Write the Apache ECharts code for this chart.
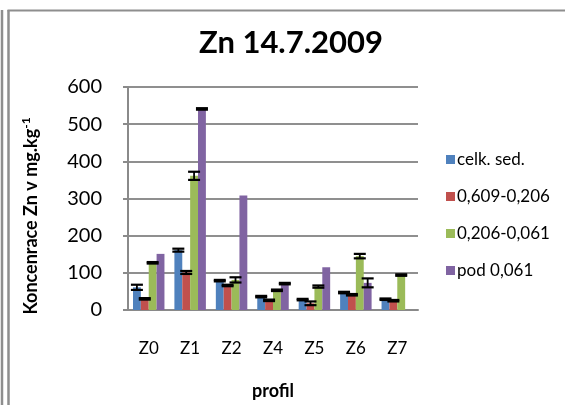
<!DOCTYPE html>
<html>
<head>
<meta charset="utf-8">
<script src="https://cdn.jsdelivr.net/npm/echarts@6/dist/echarts.min.js"></script>
<style>
  html, body { margin: 0; padding: 0; background: #fff; }
  #chart { width: 565px; height: 405px; }
</style>
</head>
<body>
<div id="chart"></div>
<script>
// Zinc concentration per sampling profile, by grain-size fraction (14.7.2009)
const categories = ['Z0', 'Z1', 'Z2', 'Z4', 'Z5', 'Z6', 'Z7'];
const seriesNames = ['celk. sed.', '0,609-0,206', '0,206-0,061', 'pod 0,061'];

const celkSed   = [61, 161, 79, 36, 28, 47, 29];
const frac609   = [30, 101, 66, 26, 18, 41, 25];
const frac206   = [127, 361, 81, 53, 63, 145, 94];
const pod061    = [151, 541, 308, 71, 115, 73, null];

// standard deviations (null = no error bar)
const celkSedErr = [7, 4, 2, 2, 2, 2, 2];
const frac609Err = [2, 4, 2, 2, 5, 2, 2];
const frac206Err = [2, 11, 7, 2, 3, 6, 2];
const pod061Err  = [null, 2, null, 2, null, 12, null];

const yTicks = [0, 100, 200, 300, 400, 500, 600];

const colors = ['#4F81BD', '#C0504D', '#9BBB59', '#8064A2'];
const values = [celkSed, frac609, frac206, pod061];
const errors = [celkSedErr, frac609Err, frac206Err, pod061Err];

const CAT_GAP = 0.24;   // share of each category band left empty
const FONT = 'Lato, "Open Sans", sans-serif';

const chart = echarts.init(document.getElementById('chart'), null, { renderer: 'canvas' });

const barSeries = seriesNames.map((name, i) => ({
  name: name,
  type: 'bar',
  data: values[i],
  barGap: '0%',
  barCategoryGap: (CAT_GAP * 100) + '%',
  itemStyle: { color: colors[i] },
  animation: false
}));

// error bars drawn on top of each bar position
const errorSeries = seriesNames.map((name, i) => {
  const data = [];
  values[i].forEach((v, c) => {
    const e = errors[i][c];
    if (v != null && e != null) data.push([c, v, e, i]);
  });
  return {
    type: 'custom',
    name: name + ' err',
    data: data,
    z: 10,
    animation: false,
    silent: true,
    encode: { x: 0, y: 1 },
    renderItem: function (params, api) {
      const c = api.value(0), v = api.value(1), e = api.value(2), k = api.value(3);
      const band = api.size([1, 0])[0];
      const bw = band * (1 - CAT_GAP) / 4;
      const cx = api.coord([c, v])[0] - bw * 2 + bw * (k + 0.5);
      const yHi = api.coord([c, v + e])[1];
      const yLo = api.coord([c, v - e])[1];
      const hw = 6;
      const st = { stroke: '#000', lineWidth: 2.2 };
      return {
        type: 'group',
        children: [
          { type: 'line', shape: { x1: cx, y1: yHi, x2: cx, y2: yLo }, style: { stroke: '#000', lineWidth: 1.8 } },
          { type: 'line', shape: { x1: cx - hw, y1: yHi, x2: cx + hw, y2: yHi }, style: st },
          { type: 'line', shape: { x1: cx - hw, y1: yLo, x2: cx + hw, y2: yLo }, style: st }
        ]
      };
    }
  };
});

const frameColor = '#8e8e8e';

chart.setOption({
  backgroundColor: '#fff',
  animation: false,
  title: {
    text: 'Zn 14.7.2009',
    left: 286,
    top: 22,
    textAlign: 'center',
    textStyle: { fontFamily: FONT, fontSize: 31, fontWeight: 'bold', color: '#000' }
  },
  legend: {
    data: seriesNames,
    orient: 'vertical',
    left: 441,
    top: 146,
    itemGap: 20,
    itemWidth: 9,
    itemHeight: 9,
    icon: 'rect',
    textStyle: { fontFamily: FONT, fontSize: 17, color: '#000', padding: [0, 0, 0, -3] }
  },
  grid: { left: 128, right: 147, top: 87, bottom: 88, containLabel: false },
  xAxis: {
    type: 'category',
    data: categories,
    name: 'profil',
    nameLocation: 'middle',
    nameGap: 72,
    nameTextStyle: { fontFamily: FONT, fontSize: 18, fontWeight: 'bold', color: '#000' },
    axisLine: { lineStyle: { color: '#8a8a8a', width: 2 } },
    axisTick: { show: false },
    axisLabel: { fontFamily: FONT, fontSize: 17, color: '#000', margin: 30 }
  },
  yAxis: {
    type: 'value',
    min: 0,
    max: 600,
    interval: 100,
    axisLine: { show: true, lineStyle: { color: '#8a8a8a', width: 2 } },
    axisTick: { show: true, length: 5, lineStyle: { color: '#8a8a8a', width: 2 } },
    axisLabel: {
      fontFamily: FONT, fontSize: 20, color: '#000', margin: 26,
      formatter: function (v) { return yTicks.indexOf(v) >= 0 ? String(v) : ''; }
    },
    splitLine: { lineStyle: { color: '#8f8f8f', width: 2 } }
  },
  graphic: [
    { type: 'line', shape: { x1: 2, y1: 10, x2: 2, y2: 405 }, style: { stroke: frameColor, lineWidth: 2.5 } },
    { type: 'line', shape: { x1: 8.5, y1: 10, x2: 8.5, y2: 405 }, style: { stroke: frameColor, lineWidth: 2.5 } },
    { type: 'line', shape: { x1: 7.5, y1: 10.5, x2: 565, y2: 10.5 }, style: { stroke: frameColor, lineWidth: 2 } },
    {
      type: 'text',
      x: 31,
      y: 216,
      rotation: Math.PI / 2,
      style: {
        text: '{m|Koncenrace Zn v mg.kg}{s|-1}',
        align: 'center',
        verticalAlign: 'middle',
        rich: {
          m: { fontFamily: FONT, fontSize: 18, fontWeight: 'bold', fill: '#000', lineHeight: 22 },
          s: { fontFamily: FONT, fontSize: 12, fontWeight: 'bold', fill: '#000', verticalAlign: 'top', lineHeight: 22 }
        }
      }
    }
  ],
  series: barSeries.concat(errorSeries)
});
</script>
</body>
</html>
